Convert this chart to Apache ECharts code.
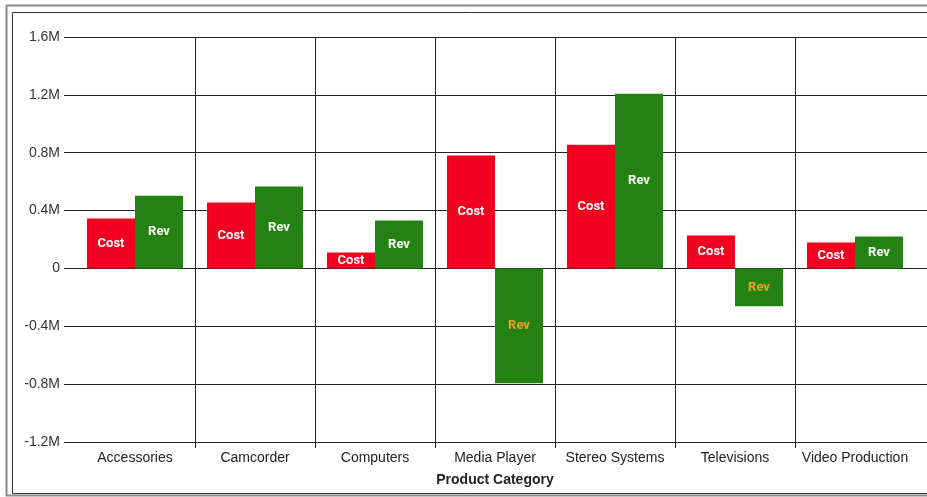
<!DOCTYPE html>
<html>
<head>
<meta charset="utf-8">
<script src="https://cdn.jsdelivr.net/npm/echarts@6/dist/echarts.min.js"></script>
<style>
html,body{margin:0;padding:0;background:#fff;}
#chart{width:927px;height:497px;}
</style>
</head>
<body>
<div id="chart"></div>
<script>
const categories = ['Accessories','Camcorder','Computers','Media Player','Stereo Systems','Televisions','Video Production'];
const costValues = [345000, 455000, 110000, 780000, 855000, 228000, 180000];
const revValues = [503000, 566000, 331000, -793000, 1207000, -262000, 221000];
const yTicks = {min: -1200000, max: 1600000, interval: 400000};

const chart = echarts.init(document.getElementById('chart'));
const fmtY = v => v === 0 ? '0' : (v / 1e6) + 'M';
const lineColor = '#222';

chart.setOption({
  animation: false,
  backgroundColor: '#fff',
  graphic: [
    {type: 'rect', shape: {x: 6.5, y: 5.5, width: 940, height: 490}, style: {fill: 'none', stroke: '#8a8a8a', lineWidth: 2}, z: -10, silent: true},
    {type: 'rect', shape: {x: 12.5, y: 12.5, width: 930, height: 481}, style: {fill: 'none', stroke: '#333', lineWidth: 1}, z: -10, silent: true},
    {type: 'rect', shape: {x: 912, y: 443, width: 6, height: 8}, style: {fill: '#fff'}, z: 100, silent: true}
  ],
  grid: [
    {left: 75, right: 12, top: 37, bottom: 55},
    {left: 915, right: 0, top: 37, bottom: 55}
  ],
  xAxis: [
    {
      type: 'category', data: categories, gridIndex: 0,
      name: 'Product Category', nameLocation: 'middle', nameGap: 31,
      nameTextStyle: {fontFamily: 'Liberation Sans, Arial', fontSize: 14, fontWeight: 'bold', color: '#222'},
      axisLine: {show: false, onZero: false},
      axisTick: {show: true, length: 6, lineStyle: {color: lineColor}, interval: i => i > 0 && i < categories.length},
      axisLabel: {fontFamily: 'Liberation Sans, Arial', fontSize: 14, color: '#222', margin: 9, interval: 0},
      splitLine: {show: true, showMinLine: false, showMaxLine: false, lineStyle: {color: lineColor, width: 1}}
    },
    {type: 'value', gridIndex: 1, show: false, min: 0, max: 1}
  ],
  yAxis: [
    {
      type: 'value', gridIndex: 0, min: yTicks.min, max: yTicks.max, interval: yTicks.interval,
      axisLine: {show: false},
      axisTick: {show: true, length: 11, lineStyle: {color: lineColor}},
      axisLabel: {formatter: fmtY, fontFamily: 'Liberation Sans, Arial', fontSize: 14, color: '#333', margin: 15},
      splitLine: {show: true, lineStyle: {color: lineColor, width: 1}}
    },
    {
      type: 'value', gridIndex: 1, min: yTicks.min, max: yTicks.max, interval: yTicks.interval,
      axisLine: {show: false}, axisTick: {show: false}, axisLabel: {show: false},
      splitLine: {show: true, lineStyle: {color: lineColor, width: 1}}
    }
  ],
  series: [
    {
      name: 'Cost', type: 'bar', data: costValues, barWidth: 48, barGap: '0%',
      itemStyle: {color: '#F20020'},
      label: {show: true, position: 'inside', formatter: 'Cost', color: '#fff', fontFamily: 'Roboto', fontWeight: 'bold', fontSize: 13}
    },
    {
      name: 'Rev', type: 'bar', barWidth: 48, barGap: '0%',
      data: revValues.map(v => ({
        value: v,
        label: {color: v < 0 ? '#F0A020' : '#fff'}
      })),
      itemStyle: {color: '#248214'},
      label: {show: true, position: 'inside', formatter: 'Rev', fontFamily: 'Roboto', fontWeight: 'bold', fontSize: 13}
    }
  ]
});
</script>
</body>
</html>
